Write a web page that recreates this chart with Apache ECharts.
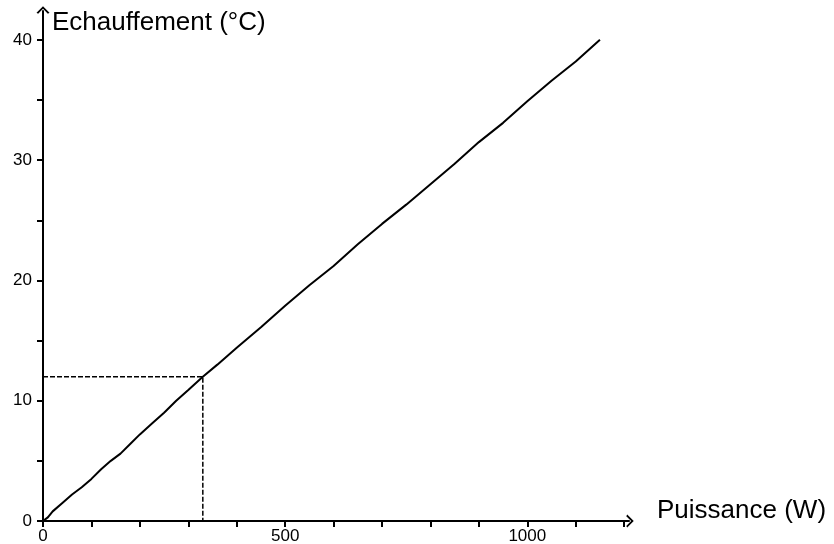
<!DOCTYPE html>
<html>
<head>
<meta charset="utf-8">
<script src="https://cdn.jsdelivr.net/npm/echarts@6/dist/echarts.min.js"></script>
<style>
  html, body { margin: 0; padding: 0; background: #fff; }
  #chart { width: 834px; height: 544px; }
</style>
</head>
<body>
<div id="chart"></div>
<script>
// Heating of the unit versus dissipated power
const power = [0, 10, 20, 40, 60, 80, 100, 120, 140, 160, 180, 200, 225, 250, 275, 300, 330,
  360, 400, 450, 500, 550, 600, 650, 700, 750, 800, 850, 900, 950, 1000, 1050, 1100, 1150];
const heating = [0, 0.3, 0.8, 1.5, 2.2, 2.8, 3.5, 4.3, 5.0, 5.6, 6.4, 7.2, 8.1, 9.0, 10.0, 10.9, 12.0,
  13.0, 14.4, 16.1, 17.9, 19.6, 21.2, 23.0, 24.7, 26.3, 28.0, 29.7, 31.5, 33.1, 34.9, 36.6, 38.2, 40.0];

// Reading guide for the operating point (330 W, 12 °C)
const guideX = [0, 330, 330];
const guideY = [12, 12, 0];

// Tick positions and labelled values
const xTicks = [0, 100, 200, 300, 400, 500, 600, 700, 800, 900, 1000, 1100, 1200];
const xLabels = [0, 500, 1000];
const yTicks = [0, 5, 10, 15, 20, 25, 30, 35, 40];
const yLabels = [0, 10, 20, 30, 40];

// Open arrow head at the end of each axis
const chevron = 'path://M0,10 L10,0 L20,10 L17.5,11.5 L10,4 L2.5,11.5 Z';
const font = 'Arial, "Liberation Sans", sans-serif';

const chart = echarts.init(document.getElementById('chart'), null, { renderer: 'canvas' });
chart.setOption({
  backgroundColor: '#fff',
  animation: false,
  grid: { left: 43, right: 205, top: 11, bottom: 23, containLabel: false, outerBoundsMode: 'none' },
  xAxis: {
    type: 'value', min: 0, max: 1210,
    name: 'Puissance (W)', nameLocation: 'end', nameGap: 28,
    nameTextStyle: { fontSize: 26, lineHeight: 20, color: '#000', fontFamily: font, verticalAlign: 'bottom' },
    splitLine: { show: false },
    axisLine: { show: true, onZero: false, lineStyle: { color: '#000', width: 2 },
      symbol: ['none', chevron], symbolSize: [13, 8], symbolOffset: [0, 1] },
    axisTick: { show: true, inside: false, length: 6, customValues: xTicks, lineStyle: { color: '#000', width: 2 } },
    axisLabel: { show: true, margin: 7, customValues: xLabels, fontSize: 17, color: '#000', fontFamily: font,
      formatter: v => String(v) }
  },
  yAxis: {
    type: 'value', min: 0, max: 42.4,
    name: 'Echauffement (°C)', nameLocation: 'end', nameGap: -12,
    nameTextStyle: { fontSize: 26, color: '#000', fontFamily: font, align: 'left', verticalAlign: 'middle', padding: [0, 0, 0, 9] },
    splitLine: { show: false },
    axisLine: { show: true, onZero: false, lineStyle: { color: '#000', width: 2 },
      symbol: ['none', chevron], symbolSize: [13, 8], symbolOffset: [0, 1] },
    axisTick: { show: true, inside: false, length: 6, customValues: yTicks, lineStyle: { color: '#000', width: 2 } },
    axisLabel: { show: true, margin: 11, customValues: yLabels, fontSize: 17, color: '#000', fontFamily: font,
      formatter: v => String(v) }
  },
  series: [
    {
      type: 'line',
      data: power.map((p, i) => [p, heating[i]]),
      showSymbol: false, smooth: false, silent: true,
      lineStyle: { color: '#000', width: 2 },
      z: 3
    },
    {
      type: 'line',
      data: guideX.map((p, i) => [p, guideY[i]]),
      showSymbol: false, silent: true,
      lineStyle: { color: '#000', width: 1.5, type: [5, 2] },
      z: 2
    }
  ]
});
</script>
</body>
</html>
